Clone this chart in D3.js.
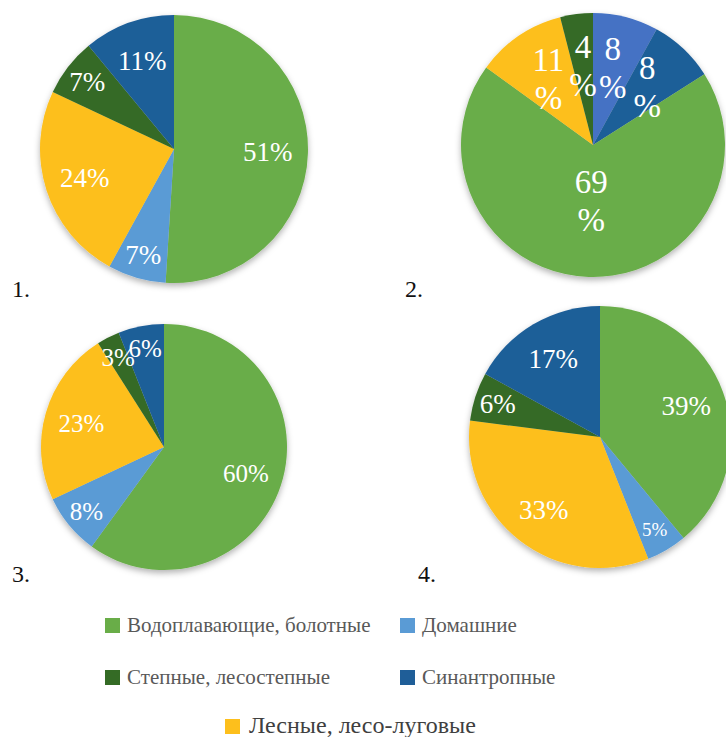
<!DOCTYPE html>
<html>
<head>
<meta charset="utf-8">
<script src="https://cdn.jsdelivr.net/npm/d3@7"></script>
<style>
  body { margin: 0; background: #fff; }
  text { font-family: "Liberation Serif", "DejaVu Serif", serif; }
</style>
</head>
<body>
<div id="vis"></div>
<script>
// data
const categories = ["Водоплавающие, болотные", "Домашние", "Степные, лесостепные", "Синантропные", "Лесные, лесо-луговые"]
const colors = ['#69ad48', '#5a9bd5', '#346b25', '#1f5e98', '#fdbf1c']

const chartNames = ["1.", "2.", "3.", "4."]
const sliceOrderA = ["Водоплавающие, болотные", "Домашние", "Лесные, лесо-луговые", "Степные, лесостепные", "Синантропные"]
const sliceOrderB = ["Домашние", "Синантропные", "Водоплавающие, болотные", "Лесные, лесо-луговые", "Степные, лесостепные"]
const values1 = [51, 7, 24, 7, 11]
const values2 = [8, 8, 69, 11, 4]
const values3 = [60, 8, 23, 3, 6]
const values4 = [39, 5, 33, 6, 17]

const W = 726, H = 737
const serif = '"Liberation Serif", "Times New Roman", serif'
const colorScale = d3.scaleOrdinal(categories, colors)

// layout of the four pies
const charts = [
    {name: chartNames[0], order: sliceOrderA, values: values1, cx: 174, cy: 149, r: 134, font: 27, small: 27, nameX: 12, nameY: 297},
    {name: chartNames[1], order: sliceOrderB, values: values2, cx: 593, cy: 145, r: 132, font: 33, small: 33, nameX: 405, nameY: 297, wrap: true, blue: '#4472c4'},
    {name: chartNames[2], order: sliceOrderA, values: values3, cx: 164, cy: 447, r: 123, font: 25, small: 25, nameX: 12, nameY: 582},
    {name: chartNames[3], order: sliceOrderA, values: values4, cx: 600, cy: 437, r: 131, font: 27, small: 19, nameX: 418, nameY: 582}
]

let svg = d3.select('#vis')
    .append('svg')
    .attr('width', W)
    .attr('height', H)

let defs = svg.append('defs')
defs.append('filter')
    .attr('id', 'shadow')
    .attr('x', '-20%').attr('y', '-20%').attr('width', '140%').attr('height', '140%')
    .append('feDropShadow')
        .attr('dx', 0).attr('dy', 3)
        .attr('stdDeviation', 3)
        .attr('flood-color', '#000')
        .attr('flood-opacity', 0.3)

const pie = d3.pie().sort(null).value(d => d.value)

charts.forEach(c => {
    let rows = c.order.map((cat, i) => ({cat: cat, value: c.values[i]}))
    let arcs = pie(rows)
    let arc = d3.arc().innerRadius(0).outerRadius(c.r)

    let g = svg.append('g')
        .attr('transform', `translate(${c.cx},${c.cy})`)

    g.append('g')
        .attr('filter', 'url(#shadow)')
        .selectAll('path')
        .data(arcs)
        .enter()
        .append('path')
            .attr('d', arc)
            .attr('fill', d => (c.blue && d.data.cat === "Домашние") ? c.blue : colorScale(d.data.cat))

    // labels: small slices pushed further out, like excel's best fit
    let labelR = d => {
        if (c.wrap) return c.r * (d.data.value > 50 ? 0.43 : 0.6)
        return c.r * (d.data.value < 10 ? 0.82 : 0.7)
    }
    let labels = g.selectAll('.pie-label')
        .data(arcs)
        .enter()
        .append('text')
            .attr('class', 'pie-label')
            .attr('transform', d => {
                let a = (d.startAngle + d.endAngle) / 2
                let rr = labelR(d)
                return `translate(${Math.sin(a) * rr},${-Math.cos(a) * rr})`
            })
            .attr('text-anchor', 'middle')
            .attr('font-family', serif)
            .attr('fill', '#fff')
            .attr('font-size', d => (d.data.value <= 5 ? c.small : c.font) + 'px')

    if (c.wrap) {
        labels.append('tspan').attr('x', 0).attr('dy', '-0.25em').text(d => d.data.value)
        labels.append('tspan').attr('x', 0).attr('dy', '1.15em').text('%')
    } else {
        labels.attr('dy', '0.35em').text(d => d.data.value + '%')
    }

    svg.append('text')
        .attr('x', c.nameX)
        .attr('y', c.nameY)
        .attr('font-family', serif)
        .attr('font-size', '24px')
        .attr('fill', '#111')
        .text(c.name)
})

// legend
const legendPos = [
    {x: 105, y: 618, size: 21, color: '#595959'},
    {x: 400, y: 618, size: 21, color: '#595959'},
    {x: 105, y: 670, size: 21, color: '#595959'},
    {x: 400, y: 670, size: 21, color: '#595959'},
    {x: 225, y: 719, size: 24, color: '#3f3f3f'}
]

let legend = svg.selectAll('.legend-item')
    .data(categories)
    .enter()
    .append('g')
        .attr('class', 'legend-item')
        .attr('transform', (d, i) => `translate(${legendPos[i].x},${legendPos[i].y})`)

legend.append('rect')
    .attr('width', 15)
    .attr('height', 15)
    .attr('fill', d => colorScale(d))

legend.append('text')
    .attr('x', (d, i) => i === 4 ? 24 : 22)
    .attr('y', 14)
    .attr('font-family', serif)
    .attr('font-size', (d, i) => legendPos[i].size + 'px')
    .attr('fill', (d, i) => legendPos[i].color)
    .text(d => d)
</script>
</body>
</html>
